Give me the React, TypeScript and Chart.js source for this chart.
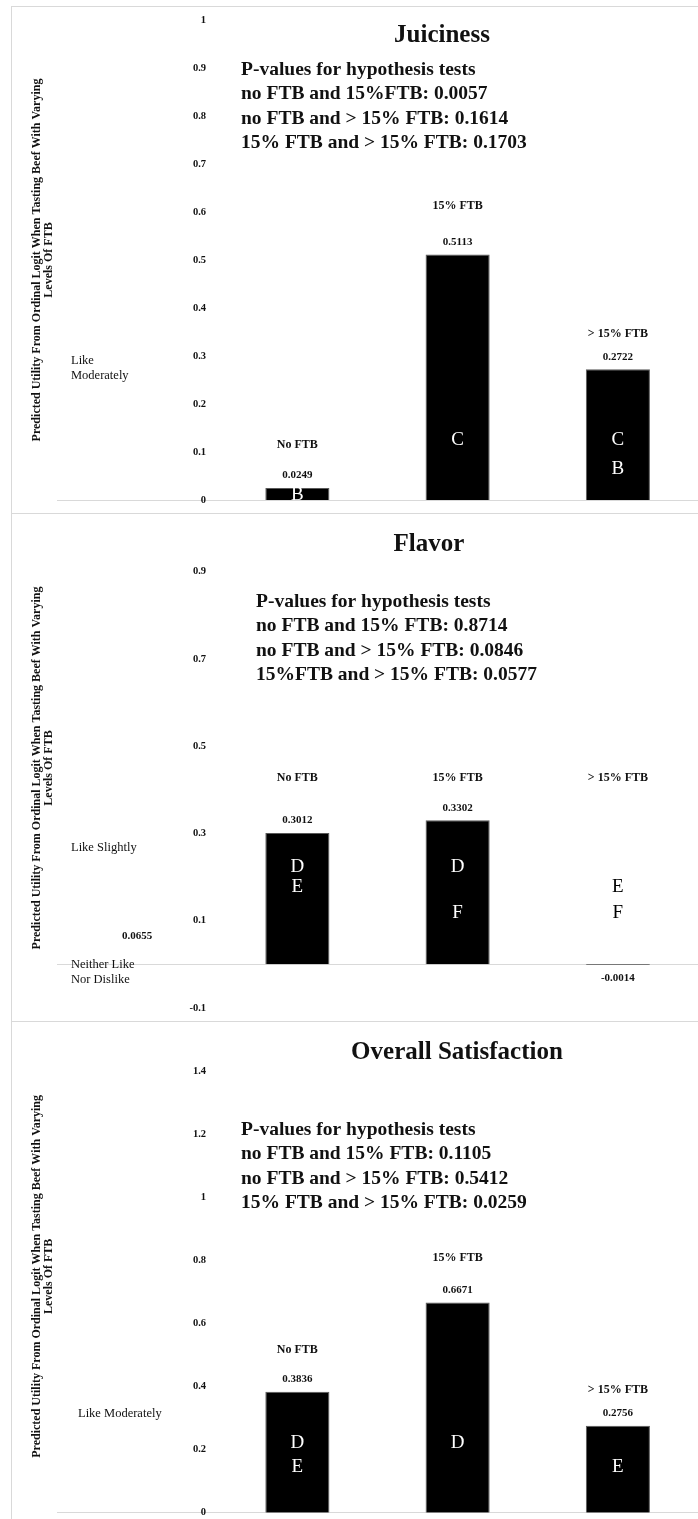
import React, { useEffect, useRef } from 'react';
import { Chart, registerables } from 'chart.js';

Chart.register(...registerables);

// ---------- data ----------
const CATEGORIES = ['', 'No FTB', '15% FTB', '> 15% FTB'];

const JUICINESS_VALUES: (number | null)[] = [null, 0.0249, 0.5113, 0.2722];
const FLAVOR_VALUES: (number | null)[] = [null, 0.3012, 0.3302, -0.0014];
const OVERALL_VALUES: (number | null)[] = [null, 0.3836, 0.6671, 0.2756];

const JUICINESS_TICKS = [0, 0.1, 0.2, 0.3, 0.4, 0.5, 0.6, 0.7, 0.8, 0.9, 1];
const FLAVOR_TICKS = [-0.1, 0.1, 0.3, 0.5, 0.7, 0.9];
const OVERALL_TICKS = [0, 0.2, 0.4, 0.6, 0.8, 1, 1.2, 1.4];

const FLAVOR_REFERENCE_VALUE = 0.0655;

const JUICINESS_PVALUES = [
  'P-values for hypothesis tests',
  'no FTB and 15%FTB: 0.0057',
  'no FTB and > 15% FTB: 0.1614',
  '15% FTB and > 15% FTB: 0.1703',
];
const FLAVOR_PVALUES = [
  'P-values for hypothesis tests',
  'no FTB and 15% FTB: 0.8714',
  'no FTB and > 15% FTB: 0.0846',
  '15%FTB and > 15% FTB: 0.0577',
];
const OVERALL_PVALUES = [
  'P-values for hypothesis tests',
  'no FTB and 15% FTB: 0.1105',
  'no FTB and > 15% FTB: 0.5412',
  '15% FTB and > 15% FTB: 0.0259',
];

const Y_TITLE = ['Predicted Utility From Ordinal Logit When Tasting Beef With Varying', 'Levels Of FTB'];

// ---------- layout / styling ----------
const SERIF = '"Liberation Serif", "DejaVu Serif", serif';
const VALUE_FONT = `bold 11px ${SERIF}`;
const CAT_FONT = `bold 12px ${SERIF}`;
const LETTER_FONT = `19px ${SERIF}`;
const TITLE_FONT = `bold 25px ${SERIF}`;
const PV_FONT = `bold 19.5px ${SERIF}`;
const NOTE_FONT = `12.5px ${SERIF}`;
const YTITLE_FONT = `bold 12px ${SERIF}`;

type Letter = { cat: number; text: string; at: number; color: string };
type Note = { text: string; x: number; y: number };

type PanelSpec = {
  top: number;
  height: number;
  padTop: number;
  padBottom: number;
  min: number;
  max: number;
  values: (number | null)[];
  ticks: number[];
  title: string;
  titleX: number;
  titleY: number;
  pLines: string[];
  pX: number;
  pY: number;
  notes: Note[];
  catLabelAt: (number | null)[];
  letters: Letter[];
  reference?: number;
};

const W = '#ffffff';
const K = '#000000';

const PANELS: PanelSpec[] = [
  {
    top: 0, height: 514, padTop: 20, padBottom: 14, min: 0, max: 1,
    values: JUICINESS_VALUES, ticks: JUICINESS_TICKS,
    title: 'Juiciness', titleX: 442, titleY: 36,
    pLines: JUICINESS_PVALUES, pX: 241, pY: 70,
    notes: [{ text: 'Like', x: 71, y: 361 }, { text: 'Moderately', x: 71, y: 376 }],
    catLabelAt: [null, 0.1146, 0.6125, 0.3458],
    letters: [
      { cat: 1, text: 'B', at: 0.0104, color: W },
      { cat: 2, text: 'C', at: 0.125, color: W },
      { cat: 3, text: 'C', at: 0.125, color: W },
      { cat: 3, text: 'B', at: 0.0646, color: W },
    ],
  },
  {
    top: 514, height: 508, padTop: 14, padBottom: 14, min: -0.1, max: 1,
    values: FLAVOR_VALUES, ticks: FLAVOR_TICKS,
    title: 'Flavor', titleX: 429, titleY: 31,
    pLines: FLAVOR_PVALUES, pX: 256, pY: 88,
    notes: [
      { text: 'Like Slightly', x: 71, y: 334 },
      { text: 'Neither Like', x: 71, y: 451 },
      { text: 'Nor Dislike', x: 71, y: 466 },
    ],
    catLabelAt: [null, 0.4264, 0.4264, 0.4264],
    letters: [
      { cat: 1, text: 'D', at: 0.2234, color: W },
      { cat: 1, text: 'E', at: 0.1776, color: W },
      { cat: 2, text: 'D', at: 0.2234, color: W },
      { cat: 2, text: 'F', at: 0.118, color: W },
      { cat: 3, text: 'E', at: 0.1776, color: K },
      { cat: 3, text: 'F', at: 0.118, color: K },
    ],
    reference: FLAVOR_REFERENCE_VALUE,
  },
  {
    top: 1022, height: 497, padTop: 18, padBottom: 2.5, min: 0, max: 1.5,
    values: OVERALL_VALUES, ticks: OVERALL_TICKS,
    title: 'Overall Satisfaction', titleX: 457, titleY: 31,
    pLines: OVERALL_PVALUES, pX: 241, pY: 108,
    notes: [{ text: 'Like Moderately', x: 78, y: 392 }],
    catLabelAt: [null, 0.517, 0.807, 0.391],
    letters: [
      { cat: 1, text: 'D', at: 0.222, color: W },
      { cat: 1, text: 'E', at: 0.1435, color: W },
      { cat: 2, text: 'D', at: 0.222, color: W },
      { cat: 3, text: 'E', at: 0.1435, color: W },
    ],
  },
];

function makeTextPlugin(p: PanelSpec) {
  return {
    id: 'panelText',
    afterDatasetsDraw(chart: any) {
      const ctx: CanvasRenderingContext2D = chart.ctx;
      const xs = chart.scales.x;
      const ys = chart.scales.y;
      const area = chart.chartArea;
      ctx.save();
      ctx.textBaseline = 'middle';

      // letters inside bars
      ctx.font = LETTER_FONT;
      ctx.textAlign = 'center';
      p.letters.forEach((l) => {
        ctx.fillStyle = l.color;
        ctx.fillText(l.text, xs.getPixelForValue(l.cat), ys.getPixelForValue(l.at));
      });

      // value labels
      ctx.fillStyle = '#111';
      ctx.font = VALUE_FONT;
      p.values.forEach((v, i) => {
        if (v === null) return;
        const px = xs.getPixelForValue(i);
        const py = ys.getPixelForValue(v);
        ctx.fillText(v.toFixed(4), px, v >= 0 ? py - 12.5 : py + 13.5);
      });
      if (p.reference !== undefined) {
        ctx.fillText(p.reference.toFixed(4), xs.getPixelForValue(0), ys.getPixelForValue(p.reference));
      }

      // category labels
      ctx.font = CAT_FONT;
      p.catLabelAt.forEach((at, i) => {
        if (at === null) return;
        ctx.fillText(CATEGORIES[i], xs.getPixelForValue(i), ys.getPixelForValue(at));
      });

      // title
      ctx.font = TITLE_FONT;
      ctx.fillText(p.title, p.titleX, p.titleY);

      // p-values
      ctx.font = PV_FONT;
      ctx.textAlign = 'left';
      p.pLines.forEach((t, i) => ctx.fillText(t, p.pX, p.pY + i * 24.3));

      // notes
      ctx.font = NOTE_FONT;
      p.notes.forEach((n) => ctx.fillText(n.text, n.x, n.y));

      // rotated y-axis title
      const cy = (area.top + area.bottom) / 2;
      ctx.font = YTITLE_FONT;
      ctx.textAlign = 'center';
      [37, 49].forEach((lx, i) => {
        ctx.save();
        ctx.translate(lx, cy);
        ctx.rotate(-Math.PI / 2);
        ctx.fillText(Y_TITLE[i], 0, 0);
        ctx.restore();
      });
      ctx.restore();
    },
  };
}

function Panel({ spec }: { spec: PanelSpec }) {
  const ref = useRef<HTMLCanvasElement | null>(null);
  useEffect(() => {
    if (!ref.current) return;
    const chart = new Chart(ref.current, {
      type: 'bar',
      data: {
        labels: CATEGORIES,
        datasets: [
          {
            data: spec.values as any,
            backgroundColor: '#000000',
            borderColor: '#595959',
            borderWidth: 1,
            barPercentage: 0.4,
            categoryPercentage: 1,
          },
        ],
      },
      options: {
        responsive: false,
        animation: false,
        devicePixelRatio: 1,
        layout: { padding: { left: 57, right: 0, top: spec.padTop, bottom: spec.padBottom } },
        plugins: { legend: { display: false }, tooltip: { enabled: false }, title: { display: false } },
        scales: {
          x: {
            type: 'category',
            position: { y: 0 } as any,
            offset: true,
            grid: { display: false, drawTicks: false },
            border: { display: true, color: '#d9d9d9', width: 1 },
            ticks: { display: false },
          },
          y: {
            type: 'linear',
            position: { x: 0.43 } as any,
            min: spec.min,
            max: spec.max,
            grid: { display: false, drawTicks: false, tickLength: 0 },
            border: { display: false },
            afterBuildTicks: (axis: any) => {
              axis.ticks = spec.ticks.map((v) => ({ value: v }));
            },
            ticks: {
              padding: 0,
              color: '#111',
              font: { family: '"Liberation Serif", "DejaVu Serif", serif', size: 10.5, weight: 'bold' },
              callback: (v: any) => String(v),
            },
          },
        },
      },
      plugins: [makeTextPlugin(spec)],
    });
    return () => chart.destroy();
  }, [spec]);
  return (
    <canvas
      ref={ref}
      width={698}
      height={spec.height}
      style={{ position: 'absolute', left: 0, top: spec.top, width: 698, height: spec.height }}
    />
  );
}

export default function App() {
  const border = '1px solid #d9d9d9';
  return (
    <div style={{ position: 'absolute', left: 0, top: 0, width: 698, height: 1519, overflow: 'hidden', background: '#fff' }}>
      <div style={{ position: 'absolute', left: 11, top: 6, width: 800, height: 508, boxSizing: 'border-box', borderTop: border, borderLeft: border, borderBottom: border }} />
      <div style={{ position: 'absolute', left: 11, top: 514, width: 800, height: 508, boxSizing: 'border-box', borderLeft: border, borderBottom: border }} />
      <div style={{ position: 'absolute', left: 11, top: 1022, width: 800, height: 497, boxSizing: 'border-box', borderLeft: border }} />
      {PANELS.map((p, i) => (
        <Panel key={i} spec={p} />
      ))}
    </div>
  );
}
